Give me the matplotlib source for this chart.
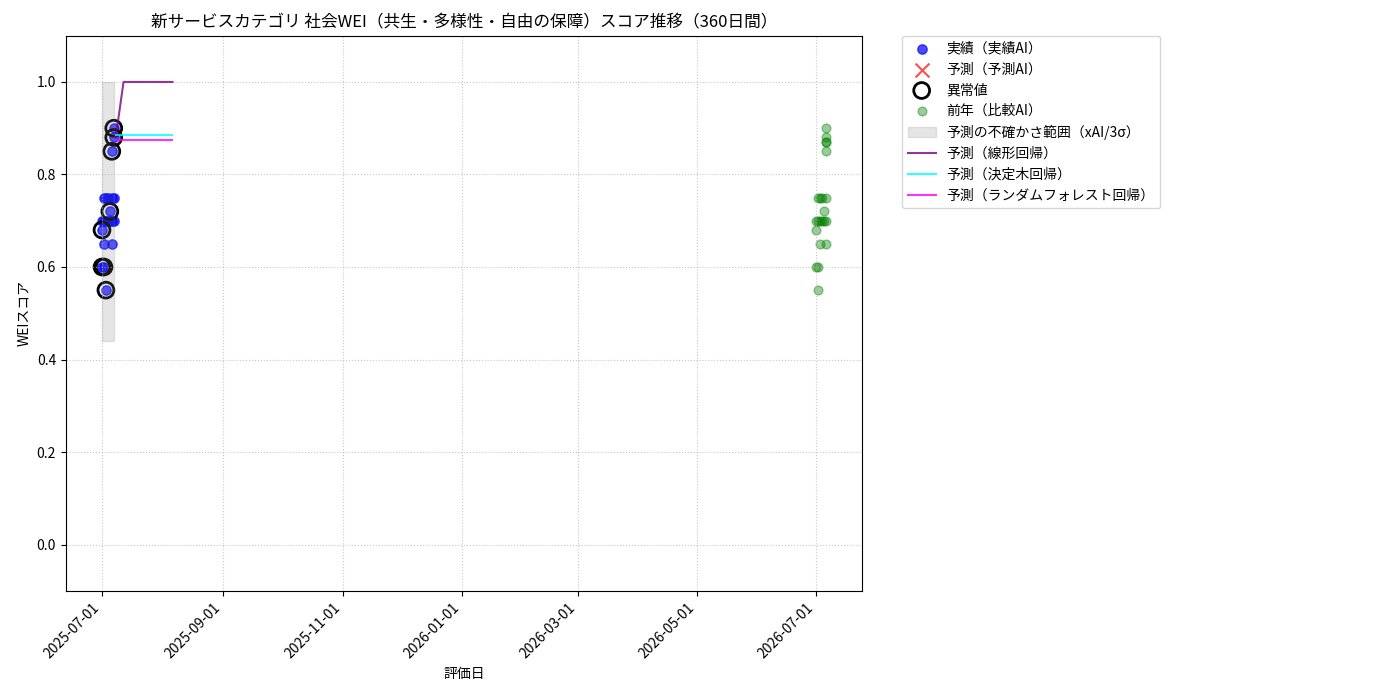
import numpy as np
import pandas as pd
import matplotlib
matplotlib.use("Agg")
import matplotlib.pyplot as plt
import matplotlib.dates as mdates

plt.rcParams['font.family'] = ['Noto Sans CJK JP', 'DejaVu Sans']

# --- data ---
act_dates = ["2025-07-01", "2025-07-01", "2025-07-01",
             "2025-07-02", "2025-07-02", "2025-07-02", "2025-07-02",
             "2025-07-03", "2025-07-03", "2025-07-03",
             "2025-07-04", "2025-07-04",
             "2025-07-05", "2025-07-05",
             "2025-07-06", "2025-07-06", "2025-07-06", "2025-07-06",
             "2025-07-07", "2025-07-07", "2025-07-07", "2025-07-07"]
act_vals = [0.60, 0.68, 0.70,
            0.70, 0.60, 0.65, 0.75,
            0.55, 0.75, 0.70,
            0.75, 0.70,
            0.72, 0.70,
            0.85, 0.75, 0.70, 0.65,
            0.88, 0.90, 0.75, 0.70]
outlier_dates = ["2025-07-01", "2025-07-01", "2025-07-02", "2025-07-03",
                 "2025-07-05", "2025-07-06", "2025-07-07", "2025-07-07"]
outlier_vals = [0.60, 0.68, 0.60, 0.55, 0.72, 0.85, 0.88, 0.90]

prev_dates = ["2026-07-01", "2026-07-01", "2026-07-01",
              "2026-07-02", "2026-07-02", "2026-07-02", "2026-07-02",
              "2026-07-03", "2026-07-03", "2026-07-03",
              "2026-07-04", "2026-07-04",
              "2026-07-05", "2026-07-05",
              "2026-07-06", "2026-07-06", "2026-07-06", "2026-07-06",
              "2026-07-06", "2026-07-06", "2026-07-06", "2026-07-06"]
prev_vals = [0.60, 0.68, 0.70,
             0.70, 0.60, 0.55, 0.75,
             0.65, 0.75, 0.70,
             0.75, 0.70,
             0.72, 0.70,
             0.85, 0.75, 0.70, 0.65,
             0.87, 0.87, 0.88, 0.90]

band_dates = ["2025-07-01", "2025-07-07"]
band_low = [0.44, 0.44]
band_high = [1.0, 1.0]

fc_dates = pd.date_range("2025-07-08", "2025-08-06", freq="D")
fc_linear = [0.88, 0.91, 0.94, 0.97, 1.0] + [1.0] * 25
fc_tree = [0.885] * 30
fc_forest = [0.874] * 30

act_dates = pd.to_datetime(act_dates)
outlier_dates = pd.to_datetime(outlier_dates)
prev_dates = pd.to_datetime(prev_dates)
band_dates = pd.to_datetime(band_dates)

# --- plot ---
fig = plt.figure(figsize=(14, 7), dpi=100)
ax = fig.add_axes([0.047, 0.156, 0.569, 0.793])

ax.scatter(act_dates, act_vals, color='blue', alpha=0.7, s=45, label='実績（実績AI）')
ax.scatter([], [], color='red', marker='x', alpha=0.7, s=100, label='予測（予測AI）')
ax.scatter(outlier_dates, outlier_vals, facecolors='none', edgecolors='black',
           s=130, linewidths=2, label='異常値')
ax.scatter(prev_dates, prev_vals, color='green', alpha=0.4, s=40, label='前年（比較AI）')
ax.fill_between(band_dates, band_low, band_high, color='gray', alpha=0.2,
                label='予測の不確かさ範囲（xAI/3σ）')
ax.plot(fc_dates, fc_linear, color='purple', alpha=0.8, linewidth=1.5, label='予測（線形回帰）')
ax.plot(fc_dates, fc_tree, color='cyan', alpha=0.8, linewidth=1.5, label='予測（決定木回帰）')
ax.plot(fc_dates, fc_forest, color='magenta', alpha=0.8, linewidth=1.5,
        label='予測（ランダムフォレスト回帰）')

ax.set_ylim(-0.1, 1.1)
ax.xaxis.set_major_locator(mdates.MonthLocator(bymonth=[1, 3, 5, 7, 9, 11]))
ax.xaxis.set_major_formatter(mdates.DateFormatter('%Y-%m-%d'))
plt.setp(ax.get_xticklabels(), rotation=45, ha='right')

ax.set_title('新サービスカテゴリ 社会WEI（共生・多様性・自由の保障）スコア推移（360日間）', fontsize=12)
ax.set_xlabel('評価日')
ax.set_ylabel('WEIスコア')
ax.grid(True, linestyle=':', alpha=0.7)
ax.legend(bbox_to_anchor=(1.05, 1), loc='upper left', borderaxespad=0)

fig.savefig('out.png', dpi=100)
